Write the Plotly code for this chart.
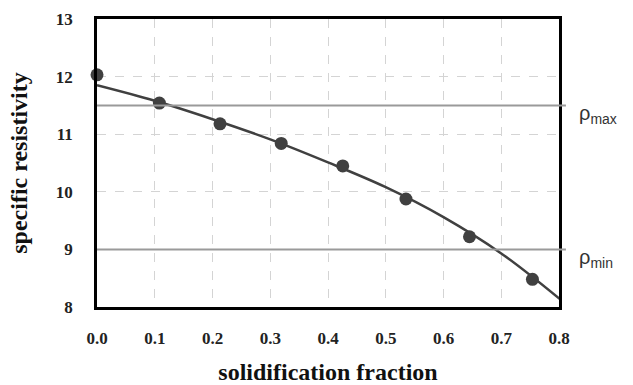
import plotly.graph_objects as go

# measured points
frac_pts = [0.0, 0.108, 0.213, 0.319, 0.4255, 0.535, 0.645, 0.754]
rho_pts = [12.03, 11.54, 11.18, 10.84, 10.45, 9.875, 9.22, 8.48]

# fitted curve
frac_fit = [0.0, 0.1, 0.2, 0.3, 0.4, 0.5, 0.6, 0.7, 0.8, 0.815]
rho_fit = [11.85, 11.58, 11.26, 10.91, 10.51, 10.08, 9.56, 8.93, 8.15, 8.02]

rho_max = 11.5
rho_min = 9.0

x_ticks = [0.0, 0.1, 0.2, 0.3, 0.4, 0.5, 0.6, 0.7, 0.8]
x_ticklabels = ["0.0", "0.1", "0.2", "0.3", "0.4", "0.5", "0.6", "0.7", "0.8"]
y_ticks = [8, 9, 10, 11, 12, 13]

serif = "Liberation Serif, Times New Roman, serif"
dark = "#404040"

fig = go.Figure()
fig.add_trace(go.Scatter(x=frac_fit, y=rho_fit, mode="lines", line=dict(color=dark, width=2.5, shape="spline"),
                         showlegend=False, hoverinfo="skip"))
fig.add_trace(go.Scatter(x=frac_pts, y=rho_pts, mode="markers", marker=dict(color=dark, size=13),
                         showlegend=False, cliponaxis=False))

for val, lab in [(rho_max, "ρ<sub>max</sub>"), (rho_min, "ρ<sub>min</sub>")]:
    fig.add_shape(type="line", xref="paper", yref="y", x0=0, x1=1.015, y0=val, y1=val,
                  line=dict(color="#9a9a9a", width=2), layer="above")
    fig.add_annotation(xref="paper", yref="y", x=1.04, y=val, text=lab, showarrow=False,
                       xanchor="left", yanchor="middle", yshift=-9,
                       font=dict(family="Liberation Sans, Arial, sans-serif", size=20, color="#333333"))

tickfont = dict(family=serif, size=17, color="#222222", weight="bold")
axis_common = dict(showline=True, linecolor="black", linewidth=2.5, mirror=True,
                   showgrid=True, gridcolor="#d4d4d4", griddash="dash", gridwidth=1,
                   zeroline=False, ticks="", automargin=False, tickfont=tickfont)

fig.update_xaxes(range=[0, 0.8], tickvals=x_ticks, ticktext=x_ticklabels, ticklabelstandoff=14,
                 title=dict(text="<b>solidification fraction</b>", standoff=21,
                            font=dict(family=serif, size=24, color="#111111")),
                 **axis_common)
fig.update_yaxes(range=[8, 13], tickvals=y_ticks, ticklabelstandoff=18,
                 title=dict(text="<b>specific resistivity</b>", standoff=22,
                            font=dict(family=serif, size=24, color="#111111")),
                 **axis_common)

fig.update_layout(width=633, height=385, margin=dict(l=97, r=74, t=19, b=78),
                  plot_bgcolor="white", paper_bgcolor="white")

fig.write_html("out.html", config={"displayModeBar": False},
               post_script="document.body.style.margin='0';document.body.style.overflow='hidden';")
